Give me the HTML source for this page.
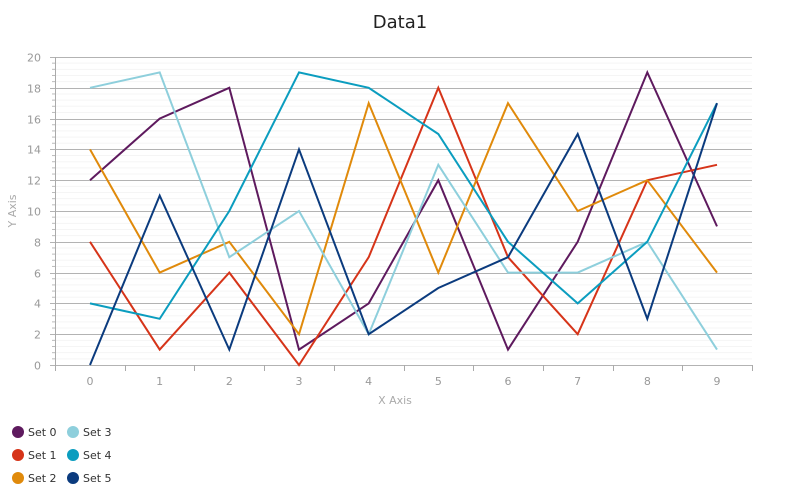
<!DOCTYPE html>
<html><head><meta charset="utf-8"><style>body{margin:0;background:#fff}svg{display:block}</style></head>
<body>
<svg id="c" width="800" height="500" xmlns="http://www.w3.org/2000/svg" font-family="'DejaVu Sans', 'Liberation Sans', sans-serif">
<text x="400" y="28" text-anchor="middle" font-size="18" fill="#222">Data1</text>
<g id="grid"></g>
<text x="395" y="404" text-anchor="middle" font-size="11" fill="#aaa">X Axis</text>
<text transform="translate(16,211) rotate(-90)" text-anchor="middle" font-size="11" fill="#aaa">Y Axis</text>
<g id="series" fill="none" stroke-width="2" stroke-linejoin="miter"></g>
<g font-size="11" fill="#333">
<circle cx="18" cy="432" r="6" fill="#5e1a5e"/><text x="28" y="436">Set 0</text>
<circle cx="73" cy="432" r="6" fill="#8ecfdc"/><text x="83" y="436">Set 3</text>
<circle cx="18" cy="455" r="6" fill="#d63419"/><text x="28" y="459">Set 1</text>
<circle cx="73" cy="455" r="6" fill="#0b9dbf"/><text x="83" y="459">Set 4</text>
<circle cx="18" cy="478" r="6" fill="#e08a0b"/><text x="28" y="482">Set 2</text>
<circle cx="73" cy="478" r="6" fill="#0b3b7e"/><text x="83" y="482">Set 5</text>
</g>
</svg>
<script>
var ns="http://www.w3.org/2000/svg";
function el(p,t,a,txt){var e=document.createElementNS(ns,t);for(var k in a)e.setAttribute(k,a[k]);if(txt!==undefined)e.textContent=txt;p.appendChild(e);return e;}
var g=document.getElementById('grid');
var X0=55,X1=752,Y0=365,Y20=57;
function Y(v){return Y0-(Y0-Y20)*v/20;}
function X(i){return 90+i*(717-90)/9;}
for(var v=0;v<20;v+=0.4){var y=Y(v);if(Math.abs(v-Math.round(v/2)*2)>0.01){el(g,'line',{x1:X0,x2:X1,y1:y,y2:y,stroke:'#f5f5f5','stroke-width':1});el(g,'line',{x1:X0-3,x2:X0,y1:y,y2:y,stroke:'#bbb','stroke-width':1});}}
for(var v=0;v<=20;v+=2){var y=Math.round(Y(v))+0.5;el(g,'line',{x1:X0-5,x2:X1,y1:y,y2:y,stroke:'#b3b3b3','stroke-width':1});el(g,'text',{x:41,y:y+4,'text-anchor':'end','font-size':11,fill:'#999'},v);}
el(g,'line',{x1:X0+0.5,x2:X0+0.5,y1:Y20,y2:Y0,stroke:'#aaa','stroke-width':1});
for(var i=0;i<=10;i++){var x=Math.round(X0+i*(X1-X0)/10)+0.5;el(g,'line',{x1:x,x2:x,y1:Y0,y2:Y0+6,stroke:'#aaa','stroke-width':1});}
for(var i=0;i<10;i++)el(g,'text',{x:X(i),y:385,'text-anchor':'middle','font-size':11,fill:'#999'},i);
var data=[["#5e1a5e",[12,16,18,1,4,12,1,8,19,9]],["#d63419",[8,1,6,0,7,18,7,2,12,13]],["#e08a0b",[14,6,8,2,17,6,17,10,12,6]],["#8ecfdc",[18,19,7,10,2,13,6,6,8,1]],["#0b9dbf",[4,3,10,19,18,15,8,4,8,17]],["#0b3b7e",[0,11,1,14,2,5,7,15,3,17]]];
var s=document.getElementById('series');
data.forEach(function(d){el(s,'polyline',{stroke:d[0],points:d[1].map(function(v,i){return X(i).toFixed(1)+','+Y(v).toFixed(1)}).join(' ')});});
</script>
</body></html>
